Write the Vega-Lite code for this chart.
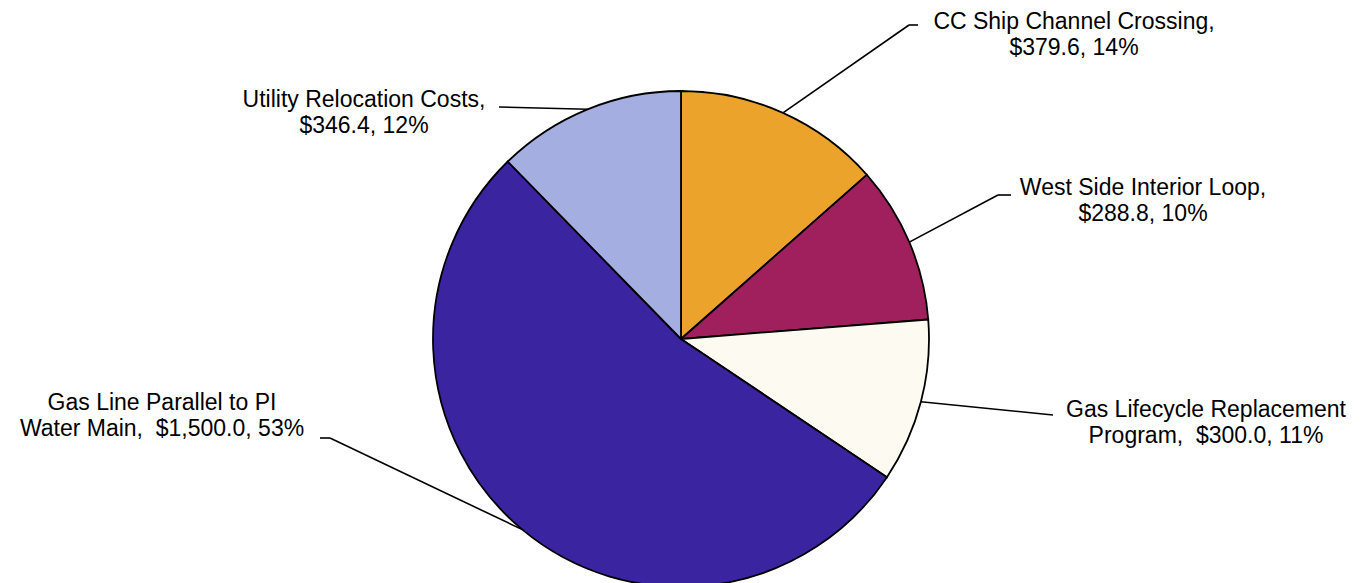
{
  "$schema": "https://vega.github.io/schema/vega-lite/v6.json",
  "width": 1362,
  "height": 486,
  "padding": {"left": 0, "top": 96, "right": 4, "bottom": 1},
  "autosize": {"type": "none"},
  "background": "white",
  "config": {"view": {"stroke": null}},
  "data": {
    "values": [
      {"category": "CC Ship Channel Crossing", "value": 379.6, "line1": "CC Ship Channel Crossing,", "line2": "$379.6, 14%"},
      {"category": "West Side Interior Loop", "value": 288.8, "line1": "West Side Interior Loop,", "line2": "$288.8, 10%"},
      {"category": "Gas Lifecycle Replacement Program", "value": 300.0, "line1": "Gas Lifecycle Replacement", "line2": "Program,\u00a0 $300.0, 11%"},
      {"category": "Gas Line Parallel to PI Water Main", "value": 1500.0, "line1": "Gas Line Parallel to PI", "line2": "Water Main,\u00a0 $1,500.0, 53%"},
      {"category": "Utility Relocation Costs", "value": 346.4, "line1": "Utility Relocation Costs,", "line2": "$346.4, 12%"}
    ]
  },
  "transform": [
    {"window": [{"op": "row_number", "as": "rn"}, {"op": "sum", "field": "value", "as": "cum"}], "frame": [null, 0]},
    {"joinaggregate": [{"op": "sum", "field": "value", "as": "total"}]},
    {"calculate": "2*PI*(datum.cum - datum.value/2)/datum.total", "as": "mid"},
    {"calculate": "248*sin(datum.mid)", "as": "sx"},
    {"calculate": "248*cos(datum.mid)", "as": "sy"},
    {"calculate": "[228,317,372,-351,-182][datum.rn-1]", "as": "ex"},
    {"calculate": "[314,144,-76,-99,232][datum.rn-1]", "as": "ey"},
    {"calculate": "[237,330,372,-361,-182][datum.rn-1]", "as": "tx"},
    {"calculate": "[393,462,525,-519,-317][datum.rn-1]", "as": "lx"},
    {"calculate": "[317,151,-71,-64,239][datum.rn-1]", "as": "ly"},
    {"calculate": "[datum.line1, datum.line2]", "as": "lines"}
  ],
  "layer": [
    {
      "mark": {"type": "arc", "outerRadius": 248, "stroke": "black", "strokeWidth": 1.8},
      "encoding": {
        "theta": {"field": "value", "type": "quantitative", "stack": true},
        "order": {"field": "rn", "type": "quantitative"},
        "color": {
          "field": "category",
          "type": "nominal",
          "scale": {
            "domain": ["CC Ship Channel Crossing", "West Side Interior Loop", "Gas Lifecycle Replacement Program", "Gas Line Parallel to PI Water Main", "Utility Relocation Costs"],
            "range": ["#EBA32C", "#A0205E", "#FDFBF1", "#3A24A0", "#A5AEE0"]
          },
          "legend": null
        }
      }
    },
    {
      "mark": {"type": "rule", "color": "black", "strokeWidth": 1.6},
      "encoding": {
        "x": {"field": "sx", "type": "quantitative", "scale": {"domain": [-681, 681], "nice": false, "zero": false}, "axis": null},
        "y": {"field": "sy", "type": "quantitative", "scale": {"domain": [-243, 243], "nice": false, "zero": false}, "axis": null},
        "x2": {"field": "ex"},
        "y2": {"field": "ey"}
      }
    },
    {
      "mark": {"type": "rule", "color": "black", "strokeWidth": 1.6},
      "encoding": {
        "x": {"field": "ex", "type": "quantitative"},
        "y": {"field": "ey", "type": "quantitative"},
        "x2": {"field": "tx"},
        "y2": {"field": "ey"}
      }
    },
    {
      "mark": {"type": "text", "font": "Liberation Sans", "fontSize": 23, "lineHeight": 26, "align": "center", "baseline": "middle", "color": "black"},
      "encoding": {
        "x": {"field": "lx", "type": "quantitative"},
        "y": {"field": "ly", "type": "quantitative"},
        "text": {"field": "lines"}
      }
    }
  ]
}
